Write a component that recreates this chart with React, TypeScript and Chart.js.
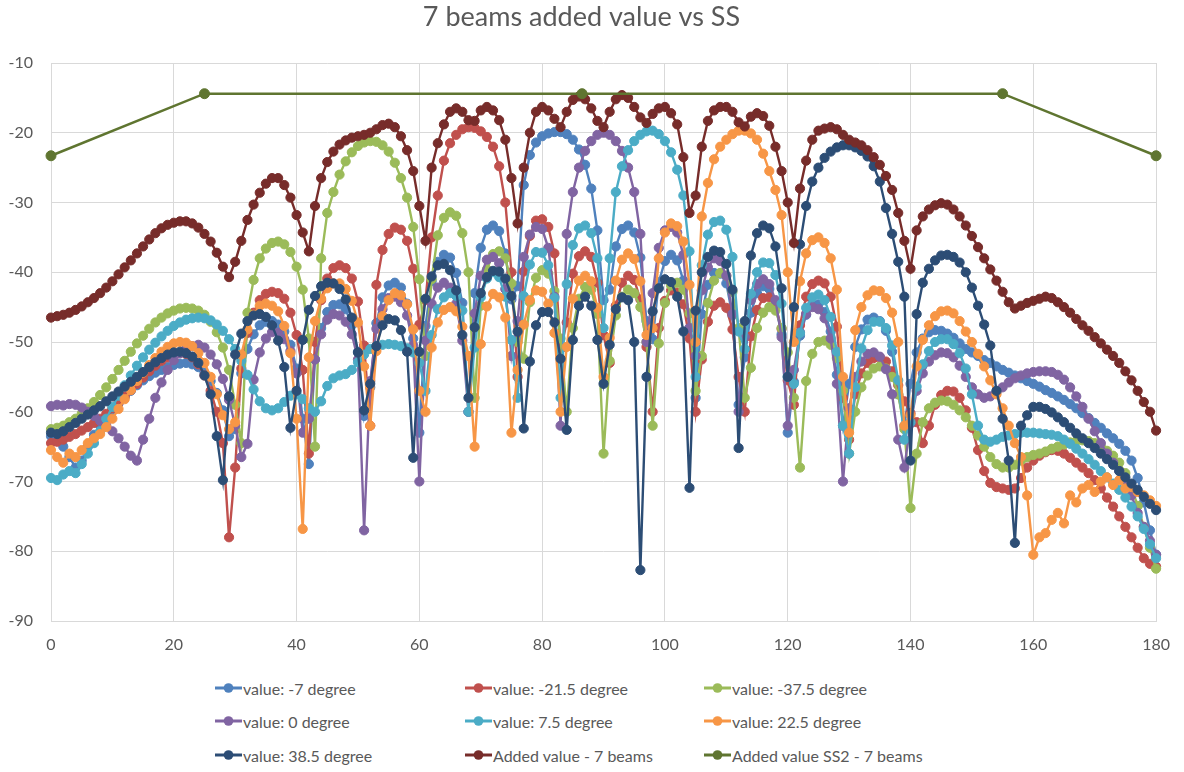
import React, { useEffect, useRef } from "react";
import { Chart, registerables } from "chart.js";

Chart.register(...registerables);

const FONT = "Lato, 'Open Sans', sans-serif";
const TEXT = "#595959";

const degrees = Array.from({ length: 181 }, (_, i) => i);

const valueM7 = [
  -63.5, -64, -65, -66.5, -68, -67, -65, -63.3, -62, -60.8,
  -59.8, -58.8, -57.9, -57, -56.2, -55.5, -54.9, -54.4, -54, -53.6,
  -53.3, -53.1, -53, -53.2, -53.6, -54.4, -55.6, -57.3, -59.8, -63.5,
  -62.5, -54.5, -51, -48.9, -47.6, -47.1, -47, -47.5, -48.5, -50.4,
  -53.8, -61, -67.5, -52.5, -48, -45.7, -44.7, -44.6, -45.3, -47.6,
  -51.4, -60.6, -56.5, -47.3, -43.6, -41.9, -41.5, -42.2, -44.5, -49.5,
  -63, -47.7, -41.3, -38.5, -37.5, -37.9, -40.1, -44.4, -60, -43,
  -36.5, -33.9, -33.3, -34.1, -37.3, -43.9, -42, -27.5, -23.2, -21.4,
  -20.5, -20.1, -19.9, -19.9, -20.2, -21, -22.4, -24.6, -28, -34,
  -44, -42.5, -36.3, -33.8, -33.3, -34.3, -37.9, -47, -49.6, -41.4,
  -38.4, -37.5, -38.3, -41.2, -48, -58, -46, -41.8, -40.1, -40.2,
  -41.6, -46.2, -59, -52.2, -45.8, -43, -42, -42.4, -44.6, -48.9,
  -63, -55.7, -49.1, -46.1, -44.6, -44.6, -45.7, -48.5, -54.7, -62,
  -56, -50.7, -48.2, -46.8, -46.5, -47, -48.4, -51.4, -57.5, -62,
  -56, -51.5, -49.5, -48.6, -48.3, -48.4, -48.8, -49.4, -50.2, -51,
  -51.5, -52, -52.6, -53, -53.5, -54, -54.4, -54.8, -55.2, -55.6,
  -56, -56.4, -56.9, -57.3, -57.8, -58.3, -58.9, -59.5, -60.2, -60.9,
  -61.6, -62.3, -63.1, -63.8, -64.6, -65.6, -67, -69.5, -73, -77,
  -80.5,
];

const valueM21 = [
  -64.5, -64.3, -64, -63.6, -63.2, -62.7, -62.2, -61.6, -61, -60.3,
  -59.5, -58.7, -57.8, -56.9, -56, -55.1, -54.2, -53.4, -52.7, -52.2,
  -51.8, -51.6, -51.7, -52.2, -53.2, -54.8, -57, -60, -64.5, -78,
  -68, -53.8, -48.7, -45.8, -44, -43.1, -42.8, -43, -43.8, -45.8,
  -49, -54, -66, -50, -44, -40.9, -39.4, -39, -39.4, -40.9,
  -44.2, -50.5, -62, -41.8, -36.8, -34.5, -33.6, -33.9, -35.5, -39.5,
  -47.5, -44, -35, -29, -24, -21.5, -20.3, -19.5, -19.2, -19.3,
  -19.8, -20.6, -22, -24.8, -30, -40, -55, -39.9, -34.8, -32.6,
  -32.4, -33.5, -37.3, -51, -47.2, -40.2, -37.7, -37, -37.8, -41.5,
  -49, -53, -44.8, -41.5, -40.5, -41.1, -43.9, -50.7, -60, -48,
  -44.1, -42.6, -42.9, -44.6, -49.5, -60, -52.5, -47.1, -44.8, -44.3,
  -45.1, -48.2, -55, -60, -49.2, -45.4, -43.7, -43.6, -44.8, -48.1,
  -55.5, -59, -47.6, -43.5, -41.7, -41.2, -41.6, -43.5, -47.8, -58,
  -64, -57.5, -54.5, -53, -52.3, -52.2, -52.8, -54.2, -56.2, -58.5,
  -60.2, -61.5, -64.5, -62, -59, -57.6, -57, -57.1, -58, -59.8,
  -62.3, -65.5, -68.5, -70.2, -70.8, -71, -71.2, -71, -69.5, -68,
  -67, -66.3, -65.8, -65.5, -65.6, -66, -66.6, -67.3, -68, -68.8,
  -69.8, -71, -72.3, -73.6, -75, -76.5, -78, -79.5, -81, -81.8,
  -82.2,
];

const valueM37 = [
  -62.5, -62.3, -62, -61.5, -61, -60.3, -59.5, -58.6, -57.6, -56.5,
  -55.3, -54, -52.7, -51.4, -50.2, -49.1, -48.1, -47.2, -46.5, -45.9,
  -45.5, -45.2, -45.1, -45.2, -45.5, -46.1, -47.1, -48.6, -50.8, -54,
  -59, -64.5, -45.8, -41.1, -38, -36.6, -35.8, -35.6, -36, -37.1,
  -39.2, -42.5, -49.5, -65, -38, -31.5, -28.5, -26, -24.1, -22.8,
  -21.9, -21.4, -21.2, -21.3, -21.8, -22.7, -24.3, -26.5, -29.3, -33.5,
  -41, -52, -41, -34.7, -32.2, -31.4, -31.9, -34.4, -40, -58,
  -44.8, -39.6, -37.4, -37, -38, -41.6, -50, -52.4, -44.3, -40.8,
  -39.7, -40.2, -42.7, -49.5, -60, -48, -43.8, -42.1, -42.5, -46,
  -66, -52.7, -46.2, -43.5, -42.5, -43, -45, -50, -62, -50.2,
  -44.4, -41.9, -41.5, -42.5, -45.9, -57, -52, -44.4, -41.2, -40.1,
  -40.5, -42.8, -48, -58, -53.7, -48, -45.8, -45, -45.5, -48,
  -51.5, -58, -68, -55.6, -51.7, -50, -49.8, -50.4, -52.3, -57,
  -66, -60, -56.5, -54.8, -53.8, -53.5, -53.8, -55, -57.5, -62.5,
  -73.8, -66, -61.5, -59.5, -58.7, -58.4, -58.5, -59, -59.8, -60.8,
  -62, -63.4, -65, -66.5, -67.5, -68, -68, -67.6, -67, -66.5,
  -66.2, -66, -65.7, -65.3, -65, -64.7, -64.4, -64.2, -64.1, -64.2,
  -64.5, -65, -65.6, -66.3, -67.3, -68.8, -70.8, -73.5, -76.5, -79.5,
  -82.5,
];

const value0 = [
  -59.2, -59, -59.1, -58.9, -59, -59.4, -60, -60.6, -61.3, -62,
  -62.8, -63.8, -65, -66.3, -67, -64, -61, -58, -55.8, -54,
  -52.6, -51.6, -51, -50.6, -50.4, -50.8, -51.8, -53.2, -55.3, -58.3,
  -62, -66.5, -64.6, -55.4, -51.5, -49.5, -48.6, -48.7, -49.6, -51.3,
  -54.5, -63, -61, -52.5, -48.9, -46.8, -46, -46.2, -47.1, -48.9,
  -52.5, -77, -55.6, -48.1, -45.3, -43.7, -43.5, -44.3, -46.2, -50.5,
  -70, -49.8, -44.5, -42.2, -41.5, -42.2, -44.5, -49.8, -60, -45.9,
  -40.5, -38.2, -37.8, -38.7, -42.4, -52, -47, -37.8, -34.6, -33.5,
  -33.8, -36.5, -43.5, -62, -34.5, -28.5, -25, -22.6, -21.2, -20.3,
  -20, -20.3, -21.2, -22.6, -25, -28.5, -34.5, -50, -43, -36.5,
  -34, -33.5, -34.3, -37.5, -48, -52, -42.6, -39.3, -38, -38.4,
  -40.5, -46, -60, -49.3, -44, -41.7, -41, -41.7, -44, -49.3,
  -62, -54, -48.6, -46, -45, -45.3, -46.6, -49.5, -56, -70,
  -59.5, -55, -52.8, -51.7, -51.5, -52.1, -53.9, -57.5, -64, -68,
  -61.7, -57, -54.5, -52.8, -51.9, -51.5, -51.6, -52.2, -53.4, -55,
  -56.5, -57.5, -58, -57.8, -57.2, -56.5, -55.8, -55.2, -54.8, -54.5,
  -54.3, -54.2, -54.2, -54.3, -54.7, -55.4, -56.5, -57.8, -59.3, -61,
  -62.8, -64.5, -66, -67.3, -68.5, -70, -72, -74.5, -76.5, -78.5,
  -80.5,
];

const value7p5 = [
  -69.5, -69.8, -69, -68.5, -68.8, -67.5, -66, -64.5, -62.8, -61,
  -59.3, -57.7, -56.2, -54.8, -53.4, -52.2, -51.1, -50.1, -49.2, -48.4,
  -47.7, -47.2, -46.8, -46.6, -46.5, -46.6, -46.9, -47.5, -48.4, -49.6,
  -51, -52.7, -54.7, -56.8, -58.5, -59.5, -59.8, -59.5, -58.6, -57.7,
  -57.5, -58.2, -59.5, -60, -58.5, -56.3, -55.2, -54.8, -54.6, -54,
  -52.9, -51.8, -51, -50.6, -50.4, -50.3, -50.4, -50.6, -50.9, -51.5,
  -53, -57, -49, -45.3, -43.6, -43, -43.4, -45.5, -60, -50.8,
  -43.6, -40.9, -40, -40.7, -43.5, -49.7, -58, -43.4, -38.9, -37.1,
  -37.2, -39, -43.7, -58, -41.7, -36.1, -33.7, -33.3, -34.4, -38,
  -48, -38, -28.5, -24.8, -22.5, -21.2, -20.3, -19.8, -19.7, -20.2,
  -21.2, -22.8, -25.3, -29, -37, -55, -39, -34.6, -32.8, -32.6,
  -33.9, -37.8, -48.5, -51, -43.1, -40, -38.6, -38.7, -40.4, -44.5,
  -55, -56, -48.7, -45.1, -43.6, -43.2, -44, -46.4, -51.4, -62,
  -66, -56.5, -50.9, -48.3, -47.1, -47.1, -48, -50.5, -55.5, -64,
  -61.5, -56.4, -53.2, -51.3, -50, -49.6, -49.6, -50.3, -51.6, -53.8,
  -57.5, -62, -64, -64.3, -64, -63.6, -63.4, -63.2, -63, -63,
  -63, -63.1, -63.2, -63.3, -63.5, -64, -64.6, -65.3, -66, -66.8,
  -67.6, -68.5, -69.4, -70.3, -71.2, -72.3, -73.6, -75, -76.8, -79,
  -81,
];

const value22p5 = [
  -65.5, -66.5, -67.3, -66, -66.5, -65.5, -64.5, -63.8, -63.2, -62.2,
  -61, -59.6, -58.2, -56.9, -55.6, -54.4, -53.3, -52.3, -51.4, -50.7,
  -50.2, -50, -50.1, -50.6, -51.6, -53, -55, -57.5, -60.5, -62.5,
  -61.5, -51.8, -48.2, -46.1, -44.8, -44.5, -44.8, -45.6, -47.7, -51.6,
  -61, -76.8, -52.2, -47, -43.8, -42.3, -41.6, -41.6, -42.4, -44.1,
  -47.2, -53.5, -62, -51.3, -46.3, -44, -43, -43.3, -44.6, -48.2,
  -57, -60, -50.8, -47.2, -45.4, -45, -45.6, -47.8, -52, -65,
  -50.3, -44.9, -43.1, -43.6, -46.5, -63, -54, -47.5, -44, -42.6,
  -42.8, -44.5, -48.7, -60, -50.7, -43.8, -41.2, -40.5, -41.3, -45.1,
  -55, -49.4, -41.2, -38.2, -37.3, -38.1, -41.3, -49, -48, -38,
  -34.3, -33, -33.4, -35.6, -41.8, -50, -32, -27.2, -23.8, -22,
  -21, -20.2, -19.7, -19.7, -20.1, -21, -23, -25.5, -28.2, -31.8,
  -40, -50, -41.3, -37.3, -35.4, -35, -35.8, -38, -42.5, -55,
  -63, -48.3, -45, -43.3, -42.6, -42.7, -43.7, -45.8, -50, -62,
  -60.5, -53.5, -49.7, -47.6, -46.3, -45.6, -45.5, -45.9, -47, -48.5,
  -50, -51.7, -53.5, -55.5, -57.5, -59.5, -62, -64.5, -66.5, -72,
  -80.5, -78, -77.4, -75.5, -74.5, -76, -72, -73, -71, -70.5,
  -71.5, -70, -69.4, -70.5, -69.8, -71, -70.8, -71.5, -72, -72.7,
  -73.5,
];

const value38p5 = [
  -63, -63.2, -62.8, -62.2, -61.6, -61, -60.4, -59.8, -59.2, -58.5,
  -57.8, -57.1, -56.4, -55.7, -55, -54.3, -53.6, -52.9, -52.3, -51.8,
  -51.5, -51.4, -51.6, -52.1, -53, -54.8, -57.5, -63.5, -69.8, -57.8,
  -51.8, -48.8, -47, -46.2, -46, -46.4, -47.6, -49.8, -53.6, -62.3,
  -57, -49.7, -45.4, -43.4, -42, -41.5, -41.6, -42.4, -43.9, -46.5,
  -51.5, -59.8, -56, -50.6, -47.6, -46.7, -46.9, -48.3, -51.4, -66.6,
  -51.4, -43.8, -40.6, -39, -38.8, -39.7, -42.6, -49, -58, -47.9,
  -43, -40.7, -39.8, -39.9, -40.9, -43.4, -48.5, -62.4, -52.8, -47.6,
  -45.7, -45.7, -47.2, -52.4, -62.6, -49.7, -44.8, -43.5, -44.8, -49.7,
  -56, -50.4, -45.3, -43.6, -44, -50, -82.7, -55, -45.6, -42.3,
  -41, -41.4, -43.5, -48.5, -70.9, -45.5, -40, -37.8, -36.9, -37.1,
  -38.8, -42.5, -65.2, -47, -37.6, -34.4, -33.3, -33.7, -36.3, -42.3,
  -55, -45, -36, -30.5, -27, -25, -23.6, -22.7, -22.1, -21.8,
  -21.8, -22.1, -22.6, -23.4, -24.8, -27, -30.8, -34.5, -38.5, -43.5,
  -67, -46, -41.5, -39.5, -38.3, -37.6, -37.5, -37.8, -38.6, -40,
  -42.2, -44.8, -47.5, -50.5, -57, -61, -67, -78.8, -62, -60.5,
  -59.3, -59.3, -59.6, -60.1, -60.8, -61.5, -62.3, -63.1, -63.8, -64.5,
  -65.2, -66, -66.8, -67.6, -68.5, -69.4, -70.3, -71.2, -72.2, -73.2,
  -74.1,
];

const addedValue = [
  -46.5, -46.3, -46.1, -45.8, -45.4, -44.9, -44.3, -43.7, -43, -42.2,
  -41.3, -40.3, -39.3, -38.3, -37.3, -36.3, -35.3, -34.4, -33.7, -33.2,
  -32.9, -32.7, -32.7, -33, -33.6, -34.5, -35.6, -37.2, -39.2, -40.7,
  -38.5, -35.5, -32.5, -30.3, -28.6, -27.3, -26.5, -26.5, -27.5, -29.3,
  -31.8, -34.3, -37, -30.5, -26.5, -24.2, -22.7, -21.7, -21.1, -20.7,
  -20.5, -20.3, -20, -19.5, -18.9, -18.7, -19.2, -20.5, -22.5, -25.5,
  -30.5, -35.5, -25, -21.5, -18.8, -17, -16.5, -17, -18.2, -18.3,
  -16.8, -16.3, -16.8, -18.2, -21, -26.5, -33, -25, -20, -17,
  -16.3, -16.8, -18, -19.2, -17, -15.3, -14.8, -15.2, -16.5, -18.3,
  -19.2, -17, -15.2, -14.6, -15, -16.3, -17.8, -18.6, -17.3, -16.5,
  -16.3, -17.2, -18.8, -23.5, -31.5, -29, -22, -18.3, -16.8, -16.3,
  -16.3, -17, -18.5, -19.1, -17.7, -17.2, -17.6, -19, -22, -25.5,
  -30, -35.8, -28, -24, -21, -19.7, -19.4, -19.2, -19.5, -20.3,
  -21, -21.4, -21.8, -22.5, -23.5, -24.6, -26.2, -28.2, -31.5, -35.5,
  -39.5, -34, -32, -31, -30.4, -30.1, -30.3, -31, -32, -33.3,
  -34.8, -36.4, -38, -39.6, -41.2, -42.8, -44.3, -45.2, -44.8, -44.4,
  -44.1, -43.8, -43.5, -43.7, -44.3, -45, -45.8, -46.7, -47.6, -48.4,
  -49.3, -50.2, -51.1, -52, -53, -54.2, -55.5, -57, -58.6, -60,
  -62.7,
];

const ss2Degrees = [0, 25, 86.5, 155, 180];
const ss2Values = [-23.3, -14.4, -14.4, -14.4, -23.3];

const beamSeries = [
  { label: "value: -7 degree", color: "#4F81BD", values: valueM7 },
  { label: "value: -21.5 degree", color: "#C0504D", values: valueM21 },
  { label: "value: -37.5 degree", color: "#9BBB59", values: valueM37 },
  { label: "value: 0 degree", color: "#8064A2", values: value0 },
  { label: "value: 7.5 degree", color: "#4BACC6", values: value7p5 },
  { label: "value: 22.5 degree", color: "#F79646", values: value22p5 },
  { label: "value: 38.5 degree", color: "#2C4D75", values: value38p5 },
  { label: "Added value - 7 beams", color: "#772C2A", values: addedValue },
];
const ss2Series = { label: "Added value SS2 - 7 beams", color: "#5F7530" };

const legendItems = [
  ...beamSeries.map((s) => ({ label: s.label, color: s.color })),
  { label: ss2Series.label, color: ss2Series.color },
];
const legendColX = [215, 465, 704];
const legendRowY = [688, 721, 755];

export default function App() {
  const canvasRef = useRef<HTMLCanvasElement | null>(null);

  useEffect(() => {
    if (!canvasRef.current) return;
    const total = beamSeries.length + 1;
    const datasets: any[] = beamSeries.map((s, i) => ({
      label: s.label,
      data: degrees.map((d, j) => ({ x: d, y: s.values[j] })),
      borderColor: s.color,
      backgroundColor: s.color,
      pointBackgroundColor: s.color,
      pointBorderColor: s.color,
      borderWidth: 2.4,
      pointRadius: 4.6,
      pointBorderWidth: 1,
      tension: 0,
      fill: false,
      clip: false,
      order: total - i,
    }));
    datasets.push({
      label: ss2Series.label,
      data: ss2Degrees.map((d, j) => ({ x: d, y: ss2Values[j] })),
      borderColor: ss2Series.color,
      backgroundColor: ss2Series.color,
      pointBackgroundColor: ss2Series.color,
      pointBorderColor: ss2Series.color,
      borderWidth: 2.5,
      pointRadius: 5,
      pointBorderWidth: 1,
      tension: 0,
      fill: false,
      clip: false,
      order: 0,
    });

    const chart = new Chart(canvasRef.current, {
      type: "line",
      data: { datasets },
      options: {
        responsive: false,
        maintainAspectRatio: false,
        animation: false,
        events: [],
        layout: { padding: { left: 0, right: 21, top: 0, bottom: 0 } },
        plugins: {
          legend: { display: false },
          tooltip: { enabled: false },
          title: {
            display: true,
            text: "7 beams added value vs SS",
            color: TEXT,
            font: { family: FONT, size: 27, weight: "normal" as any, lineHeight: 1.2 },
            padding: { top: 1, bottom: 29.6 },
          },
        },
        scales: {
          x: {
            type: "linear",
            min: 0,
            max: 180,
            ticks: {
              stepSize: 20,
              color: TEXT,
              font: { family: FONT, size: 16 },
              padding: 14,
            },
            grid: { color: "#D9D9D9", lineWidth: 1, drawTicks: false },
            border: { color: "#D9D9D9" },
            afterFit: (s: any) => {
              s.height = 44;
            },
          },
          y: {
            type: "linear",
            min: -90,
            max: -10,
            ticks: {
              stepSize: 10,
              color: TEXT,
              font: { family: FONT, size: 16 },
              padding: 18,
            },
            grid: { color: "#D9D9D9", lineWidth: 1, drawTicks: false },
            border: { display: false },
            afterFit: (s: any) => {
              s.width = 51;
            },
          },
        },
      },
    });
    return () => chart.destroy();
  }, []);

  return (
    <div
      style={{
        position: "absolute",
        left: 0,
        top: 0,
        width: 1184,
        height: 772,
        background: "#ffffff",
        overflow: "hidden",
      }}
    >
      <canvas ref={canvasRef} width={1184} height={665} style={{ display: "block" }} />
      {legendItems.map((item, i) => {
        const col = i % 3;
        const row = Math.floor(i / 3);
        return (
          <div
            key={item.label}
            style={{
              position: "absolute",
              left: legendColX[col],
              top: legendRowY[row] - 11,
              height: 22,
              display: "flex",
              alignItems: "center",
              fontFamily: FONT,
              fontSize: 16,
              color: TEXT,
              whiteSpace: "nowrap",
            }}
          >
            <svg width={27} height={12} style={{ marginRight: 1 }}>
              <line x1={0} y1={6} x2={27} y2={6} stroke={item.color} strokeWidth={3} />
              <circle cx={13.5} cy={6} r={4.8} fill={item.color} />
            </svg>
            <span>{item.label}</span>
          </div>
        );
      })}
    </div>
  );
}
